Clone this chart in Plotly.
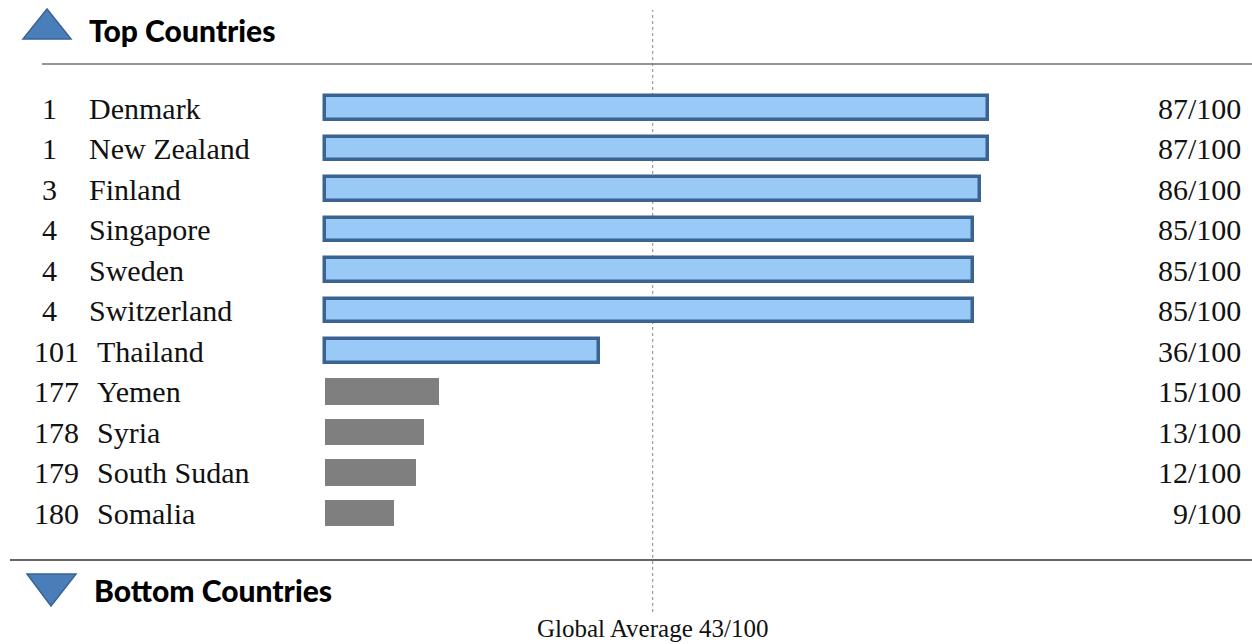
import plotly.graph_objects as go

ranks = ["1", "1", "3", "4", "4", "4", "101", "177", "178", "179", "180"]
countries = ["Denmark", "New Zealand", "Finland", "Singapore", "Sweden", "Switzerland",
             "Thailand", "Yemen", "Syria", "South Sudan", "Somalia"]
scores = [87, 87, 86, 85, 85, 85, 36, 15, 13, 12, 9]
is_top = [True, True, True, True, True, True, True, False, False, False, False]
global_avg = 43
top_title = "Top Countries"
bottom_title = "Bottom Countries"

W, H = 1252, 644
BLUE_FILL = "#99C9F6"
BLUE_LINE = "#3B6391"
GRAY = "#7F7F7F"

# pixel geometry of the plotting scale
x0_px, x87_px = 325, 988
ppu = (x87_px - x0_px) / 87.0
xr = [-x0_px / ppu, (W - x0_px) / ppu]
row0_px, row_step = 108, 40.5
yr = [(H - row0_px) / row_step, -row0_px / row_step]

ys = list(range(len(countries)))

fig = go.Figure()
top_idx = [i for i in ys if is_top[i]]
bot_idx = [i for i in ys if not is_top[i]]
fig.add_trace(go.Bar(
    x=[scores[i] for i in top_idx], y=[ys[i] for i in top_idx], orientation="h",
    width=0.57, marker=dict(color=BLUE_FILL, line=dict(color=BLUE_LINE, width=3.5)),
    hoverinfo="skip", showlegend=False))
fig.add_trace(go.Bar(
    x=[scores[i] for i in bot_idx], y=[ys[i] for i in bot_idx], orientation="h",
    width=0.66, marker=dict(color=GRAY, line=dict(width=0)),
    hoverinfo="skip", showlegend=False))

serif = "Liberation Serif"
FS = 30
ann = []
for i in ys:
    three = len(ranks[i]) > 1
    ann.append(dict(x=(32 if three else 40) / W, xref="paper", y=ys[i], yref="y",
                    text=ranks[i], showarrow=False, xanchor="left", yanchor="middle",
                    font=dict(family=serif, size=FS, color="#111")))
    ann.append(dict(x=(95 if three else 87) / W, xref="paper", y=ys[i], yref="y",
                    text=countries[i], showarrow=False, xanchor="left", yanchor="middle",
                    font=dict(family=serif, size=FS, color="#111")))
    ann.append(dict(x=1243 / W, xref="paper", y=ys[i], yref="y",
                    text=f"{scores[i]}/100", showarrow=False, xanchor="right", yanchor="middle",
                    font=dict(family=serif, size=FS, color="#111")))

ann.append(dict(x=87 / W, xref="paper", y=1 - 30 / H, yref="paper", text=top_title,
                showarrow=False, xanchor="left", yanchor="middle",
                font=dict(family="Lato", size=30, weight=900, color="#000")))
ann.append(dict(x=92 / W, xref="paper", y=1 - 590 / H, yref="paper", text=bottom_title,
                showarrow=False, xanchor="left", yanchor="middle",
                font=dict(family="Lato", size=30, weight=900, color="#000")))
ann.append(dict(x=global_avg, xref="x", y=0, yref="paper",
                text=f"Global Average {global_avg}/100", showarrow=False,
                xanchor="center", yanchor="bottom",
                font=dict(family=serif, size=25, color="#111")))

shapes = [
    dict(type="line", xref="paper", yref="paper", x0=42 / W, x1=1, y0=1 - 64 / H, y1=1 - 64 / H,
         line=dict(color="#707070", width=1.5)),
    dict(type="line", xref="paper", yref="paper", x0=10 / W, x1=1, y0=1 - 560 / H, y1=1 - 560 / H,
         line=dict(color="#666666", width=2)),
    dict(type="line", xref="x", yref="paper", x0=global_avg, x1=global_avg,
         y0=1 - 612 / H, y1=1 - 10 / H, line=dict(color="#888", width=1, dash="3px,3px"), layer="below"),
    dict(type="path", xref="paper", yref="paper",
         path=f"M {23/W},{1-39/H} L {71/W},{1-39/H} L {47/W},{1-9/H} Z",
         fillcolor="#4A7EBB", line=dict(color="#3B6391", width=1.5)),
    dict(type="path", xref="paper", yref="paper",
         path=f"M {27/W},{1-574/H} L {76/W},{1-574/H} L {51/W},{1-606/H} Z",
         fillcolor="#4A7EBB", line=dict(color="#3B6391", width=1.5)),
]

fig.update_layout(
    width=W, height=H, margin=dict(l=0, r=0, t=0, b=0),
    paper_bgcolor="white", plot_bgcolor="white",
    xaxis=dict(range=xr, visible=False, fixedrange=True),
    yaxis=dict(range=yr, visible=False, fixedrange=True),
    annotations=ann, shapes=shapes, bargap=0, barmode="overlay",
)
fig.write_html("out.html")
